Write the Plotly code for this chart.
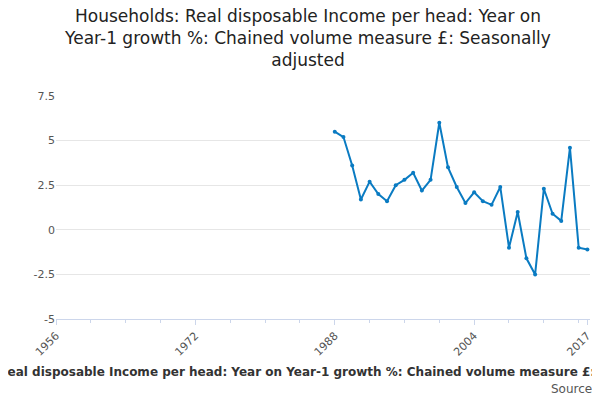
import plotly.graph_objects as go


def create_income_growth_chart():
    """Create line chart of real disposable income growth per head"""
    years = list(range(1988, 2018))
    growth = [5.5, 5.2, 3.6, 1.7, 2.7, 2.0, 1.6, 2.5, 2.8, 3.2,
              2.2, 2.8, 6.0, 3.5, 2.4, 1.5, 2.1, 1.6, 1.4, 2.4,
              -1.0, 1.0, -1.6, -2.5, 2.3, 0.9, 0.5, 4.6, -1.0, -1.1]

    fig = go.Figure()

    fig.add_trace(go.Scatter(
        x=years,
        y=growth,
        mode='lines+markers',
        line=dict(color='#0a7bc2', width=2),
        marker=dict(size=4)
    ))

    fig.update_layout(
        title=dict(
            text='Households: Real disposable Income per head: Year on<br>Year-1 growth %: Chained volume measure £: Seasonally<br>adjusted',
            x=0.5, y=0.965, font=dict(size=17, color='#222222')
        ),
        width=600, height=400,
        margin=dict(l=48, r=18, t=88, b=89),
        font=dict(family='DejaVu Sans', color='#555555', size=11),
        plot_bgcolor='white',
        paper_bgcolor='white',
        showlegend=False
    )
    fig.update_xaxes(
        range=[1956, 2017.3],
        tickvals=[1956, 1972, 1988, 2004, 2017],
        tickangle=-45,
        showgrid=False,
        showline=True, linecolor='#ccd6eb',
        ticks='outside', tickcolor='#ccd6eb',
        minor=dict(tickvals=list(range(1960, 2017, 4)), ticks='outside', tickcolor='#ccd6eb'),
        title=dict(text='<b>Households: Real disposable Income per head: Year on Year-1 growth %: Chained volume measure £: Seasonally adjusted</b>',
                   font=dict(size=12, color='#333333'), standoff=10)
    )
    fig.update_yaxes(
        range=[-5, 7.5],
        tickvals=[-5, -2.5, 0, 2.5, 5, 7.5],
        ticktext=['-5', '-2.5', '0', '2.5', '5', '7.5'],
        gridcolor='#e6e6e6',
        zeroline=False
    )
    fig.add_annotation(
        text='Source:', xref='paper', yref='paper', x=1.015, y=-0.355,
        xanchor='right', showarrow=False, font=dict(size=12, color='#555555')
    )

    return fig


fig = create_income_growth_chart()
fig.write_html("out.html")
